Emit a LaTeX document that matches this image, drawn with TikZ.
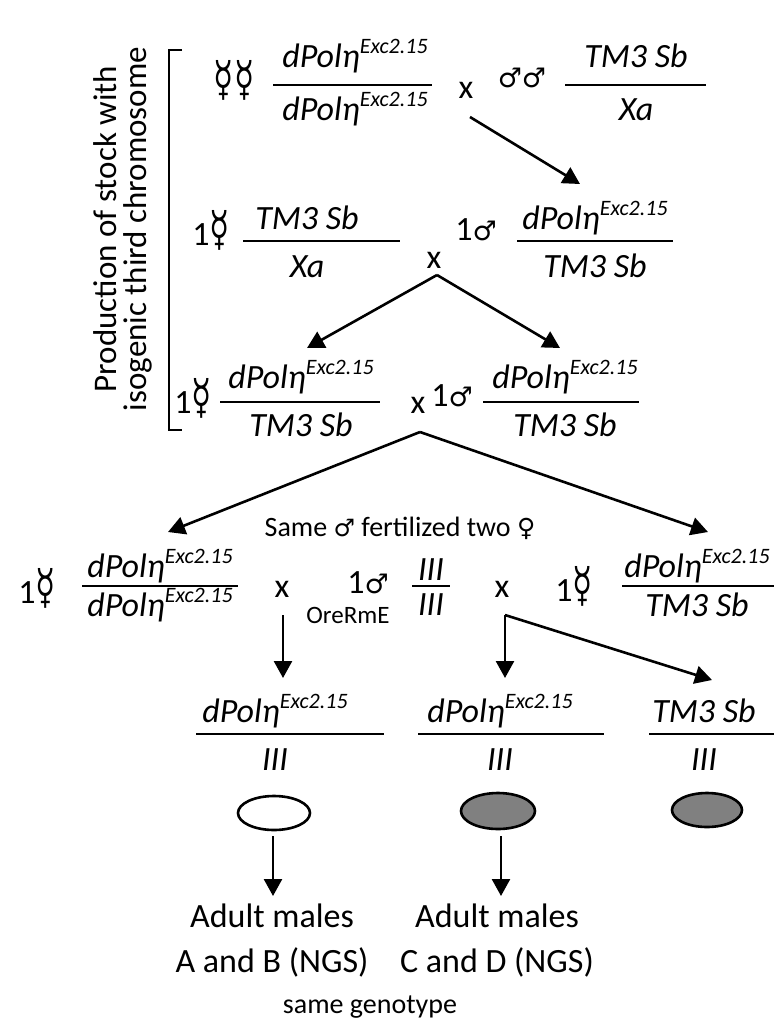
\documentclass[tikz,border=0pt]{standalone}
\usepackage{fontspec}
\setmainfont{Carlito}
\newfontfamily\symf{DejaVu Sans}
\usetikzlibrary{arrows.meta,shapes.geometric}
\newcommand{\dpol}{dPolη\raisebox{0.4em}{\fontsize{22}{22}\selectfont Exc2.15}}
\newcommand{\fem}{{\symf\fontsize{33}{33}\selectfont\scalebox{1}[1.45]{☿}}}
\newcommand{\mal}{{\symf\fontsize{27}{27}\selectfont ♂}}
\newcommand{\smal}{{\symf\fontsize{24}{24}\selectfont ♂}}
\newcommand{\vfem}{{\symf\fontsize{25}{25}\selectfont ♀}}
\newcommand{\frc}[9]{%
  \coordinate (#1l) at (#4,#3); \coordinate (#1r) at (#5,#3);
  \draw[fl] (#1l) -- (#1r);
  \node[gen,anchor=base] (#1n) at (#2,#3-#6) {#8};
  \node[gen,anchor=base] (#1d) at (#2,#3+#7) {#9};}
\begin{document}
\begin{tikzpicture}[x=1pt,y=-1pt,
  txt/.style={inner sep=0pt, font=\fontsize{34}{36}\selectfont},
  gen/.style={inner sep=0pt, font=\fontsize{34}{36}\selectfont\itshape},
  small/.style={inner sep=0pt, font=\fontsize{28}{30}\selectfont},
  fl/.style={line width=2.6pt},
  arr/.style={line width=2.6pt, -{Triangle[length=17pt,width=18pt]}},
  egg/.style={draw, line width=2.6pt, ellipse}]
\useasboundingbox (0,0) rectangle (774,1021);
\clip (0,0) rectangle (774,1021);

% bracket and rotated label
\draw[line width=2.6pt] (182,50) -- (169,50) -- (169,430) -- (182,430);
\node[inner sep=0pt, rotate=90, anchor=base, font=\fontsize{33}{34}\selectfont] (lab1) at (116,229) {Production of stock with};
\node[inner sep=0pt, rotate=90, anchor=base, font=\fontsize{33}{34}\selectfont] (lab2) at (146,229) {isogenic third chromosome};

% row 1
\node[txt] (r1f) at (234,80) {\fem\fem};
\frc{fA}{355}{85}{273}{432}{18}{35}{\dpol}{\dpol}
\node[txt] (r1x) at (466,90) {x};
\node[txt] (r1m) at (522,78) {\mal\mal};
\frc{fB}{636}{85}{565}{706}{18}{35}{TM3 Sb}{Xa}
\coordinate (a1s) at (470,117);
\coordinate (a1e) at (580,184);
\draw[arr] (a1s) -- (a1e);

% row 2
\node[txt] (r2f) at (211,230) {1\fem};
\frc{fC}{307}{241}{243}{400}{12}{36}{TM3 Sb}{Xa}
\node[txt] (r2x) at (434,260) {x};
\node[txt] (r2m) at (476,230) {1\mal};
\frc{fD}{595}{241}{517}{673}{12}{36}{\dpol}{TM3 Sb}
\coordinate (ap2) at (437,275);
\coordinate (t2l) at (307,348);
\coordinate (t2r) at (560,348);
\draw[arr] (ap2) -- (t2l);
\draw[arr] (ap2) -- (t2r);

% row 3
\node[txt] (r3f) at (193,398) {1\fem};
\frc{fE}{301}{402}{220}{380}{14}{34}{\dpol}{TM3 Sb}
\node[txt] (r3x) at (418,405) {x};
\node[txt] (r3m) at (452,396) {1\mal};
\frc{fF}{565}{402}{483}{639}{14}{34}{\dpol}{TM3 Sb}
\coordinate (ap3) at (420,432);
\coordinate (t3l) at (168,532);
\coordinate (t3r) at (708,532);
\draw[arr] (ap3) -- (t3l);
\draw[arr] (ap3) -- (t3r);

% row 4
\node[small] (same) at (400,528) {Same \smal{} fertilized two \vfem};
\node[txt] (r4f1) at (37,588) {1\fem};
\frc{fG}{160}{586}{82}{238}{9}{30}{\dpol}{\dpol}
\node[txt] (r4x1) at (282,589) {x};
\node[txt] (r4m) at (368,583) {1\mal};
\node[inner sep=0pt, font=\fontsize{25}{27}\selectfont] (ore) at (348,615) {OreRmE};
\frc{fH}{431}{586}{412}{450}{6}{29}{III}{III}
\node[txt] (r4x2) at (502,589) {x};
\node[txt] (r4f2) at (574,586) {1\fem};
\frc{fI}{697}{586}{622}{790}{9}{30}{\dpol}{TM3 Sb}

\coordinate (d1s) at (283,615);
\coordinate (d1e) at (283,678);
\draw[arr] (d1s) -- (d1e);
\coordinate (d2s) at (505,615);
\coordinate (d2e) at (505,678);
\coordinate (d3e) at (712,680);
\draw[arr] (d2s) -- (d2e);
\draw[arr] (d2s) -- (d3e);

% row 5
\frc{fJ}{275}{734}{196}{384}{12}{36}{\dpol}{III}
\frc{fK}{500}{734}{418}{604}{12}{36}{\dpol}{III}
\frc{fL}{704}{734}{649}{790}{12}{36}{TM3 Sb}{III}

\node[egg, fill=white, minimum width=72pt, minimum height=34pt] (e1) at (274,813) {};
\node[egg, fill=black!50, minimum width=74pt, minimum height=36pt] (e2) at (498,811) {};
\node[egg, fill=black!50, minimum width=70pt, minimum height=34pt] (e3) at (707,810) {};

\coordinate (b1s) at (273,836);
\coordinate (b1e) at (273,896);
\coordinate (b2s) at (501,836);
\coordinate (b2e) at (501,896);
\draw[arr] (b1s) -- (b1e);
\draw[arr] (b2s) -- (b2e);

\node[txt, anchor=base] (ad1) at (272,927) {Adult males};
\node[txt, anchor=base] (ab1) at (272,972) {A and B (NGS)};
\node[txt, anchor=base] (ad2) at (497,927) {Adult males};
\node[txt, anchor=base] (ab2) at (497,972) {C and D (NGS)};
\node[small, anchor=base] (sg) at (370,1013) {same genotype};
\end{tikzpicture}
\end{document}
